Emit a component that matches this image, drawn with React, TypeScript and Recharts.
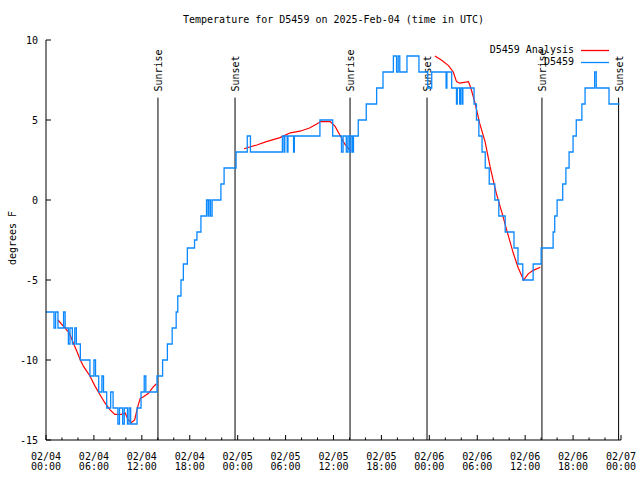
import React from 'react';
import { ComposedChart, Line, XAxis, YAxis, ReferenceLine, Legend } from 'recharts';

// observations (hours since 02/04 00:00 UTC, deg F) - step data
const obsHours = [
  0, 1.0, 1.2, 1.5, 2.2, 2.4, 2.8, 3.0, 3.3, 3.6, 3.8, 4.3, 5.5, 6.0, 6.2, 6.6, 7.0, 7.2, 7.6, 8.1,
  8.4, 9.0, 9.2, 9.6, 9.8, 10.2, 10.4, 10.6, 11.4, 11.9, 12.3, 12.5, 13.9, 14.6, 15.2, 15.8, 16.3, 16.5, 16.9, 17.2,
  17.7, 18.6, 18.9, 19.4, 20.1, 20.3, 20.4, 20.6, 20.8, 21.9, 22.3, 23.8, 25.2, 25.6, 29.6, 29.8, 29.9, 30.2, 30.3, 31.0,
  31.1, 34.3, 35.9, 37.0, 37.2, 37.6, 37.8, 38.0, 38.2, 38.4, 38.5, 39.1, 40.1, 41.4, 42.2, 43.5, 43.9, 44.1, 44.3, 44.5,
  45.2, 46.7, 47.8, 48.3, 50.1, 50.2, 50.8, 51.4, 51.5, 51.8, 51.9, 52.1, 52.2, 53.6, 53.9, 54.2, 54.6, 55.0, 55.5, 56.2,
  56.7, 57.5, 58.6, 59.1, 59.7, 61.0, 62.0, 63.5, 63.7, 64.0, 64.7, 65.1, 65.5, 66.0, 66.4, 67.1, 67.5, 68.7, 68.9, 70.5,
  71.8,
];
const obsTemps = [
  -7, -8, -7, -8, -7, -8, -9, -8, -9, -8, -9, -10, -11, -10, -11, -12, -11, -12, -13, -12,
  -13, -14, -13, -14, -13, -14, -13, -14, -13, -12, -11, -12, -11, -10, -9, -8, -7, -6, -5, -4,
  -3, -2.5, -2, -1, 0, -1, 0, -1, 0, 1, 2, 3, 4, 3, 4, 3, 4, 3, 4, 3,
  4, 5, 4, 3, 4, 3, 4, 3, 4, 3, 4, 5, 6, 7, 8, 9, 8, 9, 8, 8,
  9, 8, 7, 8, 7, 8, 7, 6, 7, 6, 7, 6, 7, 6, 5, 4, 3, 2, 1, 0,
  -1, -2, -3, -4, -5, -4, -3, -2, -1, 0, 1, 2, 3, 4, 5, 6, 7, 8, 7, 6,
  6,
];

// analysis (null = gap between runs)
const anaHours = [
  1.5, 2.2, 2.9, 3.4, 3.9, 4.3, 4.7, 5.5, 6.1, 6.8, 7.4, 8.0, 8.6, 9.5, 9.9, 10.3, 10.7, 11.1, 11.5, 11.8,
  12.2, 12.8, 13.4, 13.8, 20,
  24.8, 26.4, 27.6, 29.3, 30.6, 31.8, 33.0, 33.9, 34.4, 35.6, 36.2, 36.8, 37.4, 37.9, 38.2, 44,
  48.7, 49.5, 50.4, 51.0, 51.4, 51.8, 52.9, 53.2, 53.7, 54.3, 55.0, 55.6, 56.2, 56.4, 57.1, 57.7, 58.5, 59.1, 59.8,
  60.4, 61.0, 61.9,
];
const anaTemps = [
  -7.5, -7.9, -8.3, -8.9, -9.5, -10, -10.4, -11, -11.6, -12.2, -12.7, -13.1, -13.4, -13.4, -13.3, -13.75, -13.9, -13.75, -12.9, -12.4,
  -12.3, -12.1, -11.7, -11.5, null,
  3.2, 3.44, 3.65, 3.9, 4.2, 4.3, 4.5, 4.75, 4.9, 4.9, 4.6, 4.06, 3.5, 3.2, 3.1, null,
  9.0, 8.75, 8.4, 8.0, 7.4, 7.3, 7.4, 7.0, 6.1, 4.8, 3.6, 2.1, 0.8, 0.4, -0.8, -1.9, -3.3, -4.2, -5,
  -4.6, -4.4, -4.2,
];

const sunHours = [14.02, 23.67, 38.07, 47.71, 62.1, 71.7];
const sunLabels = ['Sunrise', 'Sunset', 'Sunrise', 'Sunset', 'Sunrise', 'Sunset'];

const xTicks = [0, 6, 12, 18, 24, 30, 36, 42, 48, 54, 60, 66, 72];
const xMinorTicks = Array.from({ length: 37 }, (_, i) => i * 2);
const xDates = ['02/04', '02/04', '02/04', '02/04', '02/05', '02/05', '02/05', '02/05', '02/06', '02/06', '02/06', '02/06', '02/07'];
const xTimes = ['00:00', '06:00', '12:00', '18:00', '00:00', '06:00', '12:00', '18:00', '00:00', '06:00', '12:00', '18:00', '00:00'];
const yTicks = [-15, -10, -5, 0, 5, 10];

const obsData = obsHours.map((h, i) => ({ h, t: obsTemps[i] }));
const anaData = anaHours.map((h, i) => ({ h, t: anaTemps[i] }));

const FONT = '"DejaVu Sans Mono", monospace';
const txt = { fontFamily: FONT, fontSize: 10, fill: '#000' };

const BottomTick = (props: any) => {
  const { x, y, payload } = props;
  const v = payload.value;
  const major = v % 6 === 0;
  const i = xTicks.indexOf(v);
  return (
    <g>
      <line x1={x} x2={x} y1={y} y2={y - (major ? 5 : 2.5)} stroke="#000" />
      {major && (
        <>
          <text x={x} y={y + 20} textAnchor="middle" {...txt}>{xDates[i]}</text>
          <text x={x} y={y + 30} textAnchor="middle" {...txt}>{xTimes[i]}</text>
        </>
      )}
    </g>
  );
};

const TopTick = (props: any) => {
  const { x, y, payload } = props;
  const major = payload.value % 6 === 0;
  return <line x1={x} x2={x} y1={y} y2={y + (major ? 5 : 2.5)} stroke="#000" />;
};

const LeftTick = (props: any) => {
  const { x, y, payload } = props;
  return (
    <g>
      <line x1={x} x2={x + 5} y1={y} y2={y} stroke="#000" />
      <text x={x - 8} y={y + 4} textAnchor="end" {...txt}>{payload.value}</text>
    </g>
  );
};

const RightTick = (props: any) => {
  const { x, y } = props;
  return <line x1={x} x2={x - 5} y1={y} y2={y} stroke="#000" />;
};

const sunLabel = (name: string) => (props: any) => {
  const vb = props.viewBox || {};
  return (
    <text transform={`translate(${vb.x + 4}, ${vb.y - 6}) rotate(-90)`} textAnchor="start" {...txt}>
      {name}
    </text>
  );
};

const legendRows = [
  { name: 'D5459 Analysis', color: '#ff0000' },
  { name: 'D5459', color: '#0a88ff' },
];

const renderLegend = () => (
  <div style={{ fontFamily: FONT, fontSize: 10, lineHeight: '12px' }}>
    {legendRows.map((r) => (
      <div key={r.name} style={{ display: 'flex', alignItems: 'center', justifyContent: 'flex-end', height: 12 }}>
        <span>{r.name}</span>
        <svg width={36} height={12} style={{ display: 'block' }}>
          <line x1={7} x2={35} y1={6.5} y2={6.5} stroke={r.color} strokeWidth={1.3} />
        </svg>
      </div>
    ))}
  </div>
);

export default function App() {
  return (
    <div style={{ position: 'absolute', left: 0, top: 0, width: 640, height: 480, background: '#fff' }}>
      <div style={{ position: 'absolute', left: 0, width: 667, top: 14, textAlign: 'center', fontFamily: FONT, fontSize: 10 }}>
        Temperature for D5459 on 2025-Feb-04 (time in UTC)
      </div>
      <div
        style={{
          position: 'absolute', left: 12, top: 238, fontFamily: FONT, fontSize: 10,
          transform: 'translate(-50%, -50%) rotate(-90deg)', whiteSpace: 'nowrap',
        }}
      >
        degrees F
      </div>
      <ComposedChart width={640} height={480} margin={{ top: 40, right: 19, bottom: 0, left: 0 }}>
        <XAxis
          dataKey="h" type="number" domain={[0, 72]} ticks={xMinorTicks} interval={0}
          height={40} tickSize={0} tickMargin={0} tickLine={false} tick={<BottomTick />}
          axisLine={{ stroke: '#000' }} allowDataOverflow
        />
        <XAxis
          xAxisId="top" orientation="top" dataKey="h" type="number" domain={[0, 72]} ticks={xMinorTicks}
          interval={0} height={0} tickSize={0} tickMargin={0} tickLine={false} tick={<TopTick />}
          axisLine={{ stroke: '#000' }}
        />
        <YAxis
          type="number" domain={[-15, 10]} ticks={yTicks} interval={0} width={46} tickSize={0} tickMargin={0}
          tickLine={false} tick={<LeftTick />} axisLine={{ stroke: '#000' }} allowDataOverflow
        />
        <YAxis
          yAxisId="right" orientation="right" type="number" domain={[-15, 10]} ticks={yTicks} interval={0}
          width={0} tickSize={0} tickMargin={0} tickLine={false} tick={<RightTick />} axisLine={{ stroke: '#000' }}
        />
        <Legend
          layout="horizontal" verticalAlign="middle" align="center" content={renderLegend}
          wrapperStyle={{ top: 44, left: 400, width: 210 }}
        />
        {sunHours.map((h, i) => (
          <ReferenceLine
            key={i}
            segment={[{ x: h, y: -15 }, { x: h, y: 6.4 }]}
            stroke="#000"
            strokeWidth={1}
            label={sunLabel(sunLabels[i])}
          />
        ))}
        <Line
          data={anaData} dataKey="t" name="D5459 Analysis" type="linear" stroke="#ff0000" strokeWidth={1.2}
          dot={false} isAnimationActive={false} connectNulls={false}
        />
        <Line
          data={obsData} dataKey="t" name="D5459" type="stepAfter" stroke="#0a88ff" strokeWidth={1.3}
          dot={false} isAnimationActive={false}
        />
      </ComposedChart>
    </div>
  );
}
